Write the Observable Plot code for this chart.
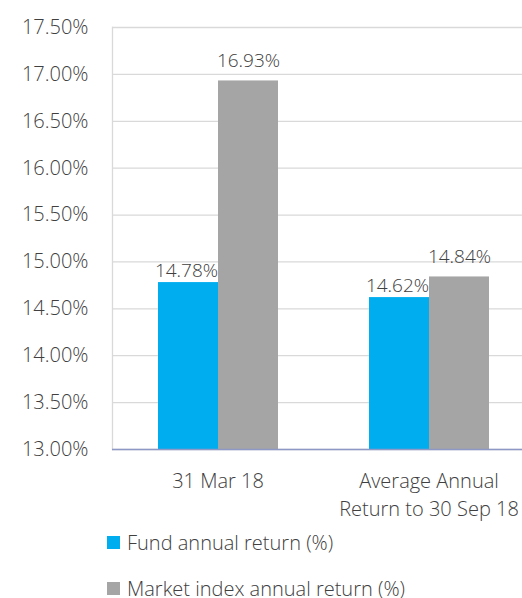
<!DOCTYPE html>
<html><head><meta charset="utf-8">
<script src="https://cdn.jsdelivr.net/npm/d3@7"></script>
<script src="https://cdn.jsdelivr.net/npm/@observablehq/plot@0.6"></script>
<style>
body{margin:0;background:#fff;overflow:hidden;font-family:"Open Sans",sans-serif;font-weight:300;color:#404040;position:relative;width:522px;height:598px}
#chart svg{overflow:visible}
#legend{position:absolute;left:0;top:530px}
#legend .item{display:flex;align-items:center;height:24px;margin-bottom:22px;font-size:20px;padding-left:107px;white-space:nowrap}
#legend .sw{width:13px;height:13px;margin-right:7px;flex:none}
</style></head><body><div id="chart"></div><div id="legend"></div>
<script>
const categories = ["31 Mar 18", "Average Annual\nReturn to 30 Sep 18"];
const series = ["Fund annual return (%)", "Market index annual return (%)"];
const fundValues = [14.78, 14.62];
const marketValues = [16.93, 14.84];
const colors = ["#00aeef", "#a5a5a5"];
const yDomain = [13, 17.5];
const yTicks = [13, 13.5, 14, 14.5, 15, 15.5, 16, 16.5, 17, 17.5];

const rows = [];
categories.forEach((c, i) => {
  rows.push({category: c, series: series[0], value: fundValues[i]});
  rows.push({category: c, series: series[1], value: marketValues[i]});
});

const fmt = v => v.toFixed(2) + "%";

const chart = Plot.plot({
  width: 522,
  height: 520,
  marginTop: 27,
  marginBottom: 71,
  marginLeft: 112,
  marginRight: 0,
  style: {fontFamily: "'Open Sans', sans-serif", fontWeight: 300, color: "#404040", background: "#fff", overflow: "visible"},
  fx: {domain: categories, range: [112, 534], padding: 0, axis: null},
  x: {domain: series, paddingInner: 0, paddingOuter: 0.758, axis: null},
  y: {domain: yDomain, axis: null},
  color: {domain: series, range: colors},
  marks: [
    Plot.gridY(yTicks, {stroke: "#d9d9d9", strokeOpacity: 1, strokeWidth: 1.3}),
    Plot.frame({anchor: "left", stroke: "#d9d9d9", strokeWidth: 1.3, facet: "super"}),
    Plot.barY(rows, {fx: "category", x: "series", y1: () => yDomain[0], y2: "value", fill: "series"}),
    Plot.ruleY([yDomain[0]], {stroke: "#8e98c6", strokeWidth: 1.3}),
    Plot.text(rows.filter(d => d.series === series[0]), {fx: "category", x: "series", y: "value", text: d => fmt(d.value), dy: -6, dx: -2, lineAnchor: "bottom", fontSize: 19, fill: "#404040"}),
    Plot.text(rows.filter(d => d.series === series[1]), {fx: "category", x: "series", y: "value", text: d => fmt(d.value), dy: -14, lineAnchor: "bottom", fontSize: 19, fill: "#404040"}),
    Plot.axisY(yTicks, {tickSize: 0, tickPadding: 24, fontSize: 20, tickFormat: fmt, label: null}),
    Plot.axisFx({anchor: "bottom", tickSize: 0, tickPadding: 19, fontSize: 20, lineHeight: 1.4, label: null})
  ]
});
document.getElementById("chart").appendChild(chart);

const legend = document.getElementById("legend");
series.forEach((s, i) => {
  const item = document.createElement("div");
  item.className = "item";
  const sw = document.createElement("span");
  sw.className = "sw";
  sw.style.background = colors[i];
  const t = document.createElement("span");
  t.textContent = s;
  item.appendChild(sw);
  item.appendChild(t);
  legend.appendChild(item);
});
</script>
</body></html>
